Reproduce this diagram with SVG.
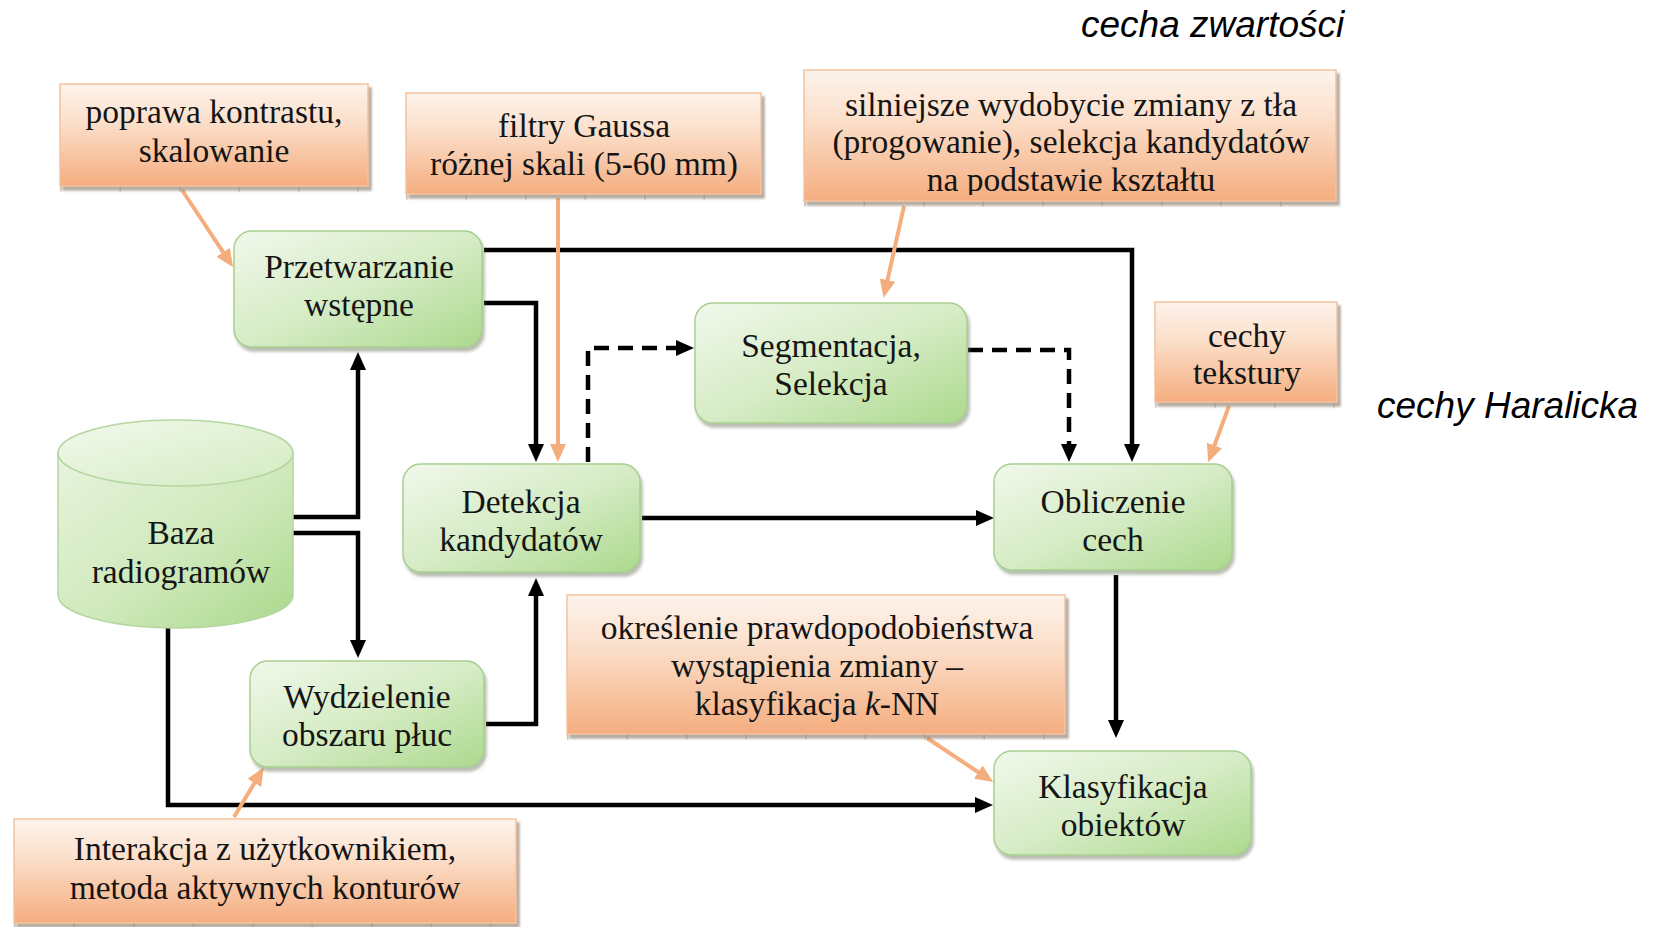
<svg xmlns="http://www.w3.org/2000/svg" width="1654" height="927" viewBox="0 0 1654 927">
  <defs>
    <linearGradient id="gOrange" x1="0" y1="0" x2="0" y2="1">
      <stop offset="0" stop-color="#fdf3ec"/>
      <stop offset="0.35" stop-color="#fbe1cd"/>
      <stop offset="1" stop-color="#f5ad7f"/>
    </linearGradient>
    <linearGradient id="gGreen" x1="0" y1="0" x2="1" y2="1">
      <stop offset="0" stop-color="#f1f8eb"/>
      <stop offset="0.5" stop-color="#d6ecc6"/>
      <stop offset="1" stop-color="#acd98d"/>
    </linearGradient>
    <linearGradient id="gCylBody" x1="0" y1="0" x2="1" y2="1">
      <stop offset="0" stop-color="#e8f4de"/>
      <stop offset="0.55" stop-color="#cfe9bb"/>
      <stop offset="1" stop-color="#aad88b"/>
    </linearGradient>
    <linearGradient id="gCylTop" x1="0" y1="0" x2="1" y2="1">
      <stop offset="0" stop-color="#f2f9ec"/>
      <stop offset="1" stop-color="#d3ebc1"/>
    </linearGradient>
    <filter id="shOrange" x="-5%" y="-10%" width="115%" height="130%">
      <feDropShadow dx="3" dy="4" stdDeviation="1.2" flood-color="#7a6656" flood-opacity="0.55"/>
    </filter>
    <filter id="shGreen" x="-5%" y="-10%" width="115%" height="130%">
      <feDropShadow dx="2" dy="4" stdDeviation="1.5" flood-color="#6f7d62" flood-opacity="0.5"/>
    </filter>
    <marker id="arrBlack" viewBox="0 0 18 16" refX="7" refY="8" markerWidth="18" markerHeight="16" markerUnits="userSpaceOnUse" orient="auto">
      <path d="M0,0 L18,8 L0,16 Z" fill="#000"/>
    </marker>
    <marker id="arrOrange" viewBox="0 0 18 16" refX="7" refY="8" markerWidth="18" markerHeight="16" markerUnits="userSpaceOnUse" orient="auto">
      <path d="M0,0 L18,8 L0,16 Z" fill="#f4ae7e"/>
    </marker>
    <clipPath id="clipShape">
      <rect x="804" y="70" width="532" height="125"/>
    </clipPath>
  </defs>
  <style>
    .note rect.box { fill: url(#gOrange); stroke: #f3c29f; stroke-width: 1.5; filter: url(#shOrange); }
    .step rect.box { fill: url(#gGreen); stroke: #a9cf90; stroke-width: 1.5; filter: url(#shGreen); }
    .ticks { stroke: #a89484; stroke-width: 5; stroke-dasharray: 1.5 58; fill: none; opacity: 0.6; }
    text { font-family: "Liberation Serif", "Times New Roman", serif; font-size: 33.5px; fill: #151515; text-anchor: middle; }
    text.side { font-family: "Liberation Sans", Arial, sans-serif; font-style: italic; font-size: 37px; fill: #000; text-anchor: start; }
    .flow { fill: none; stroke: #000; stroke-width: 4.5; marker-end: url(#arrBlack); }
    .flow.dashed { stroke-dasharray: 15 9; }
    .hint { fill: none; stroke: #f4ae7e; stroke-width: 4; marker-end: url(#arrOrange); }
  </style>

  <rect width="1654" height="927" fill="#fff"/>

  <!-- side labels -->
  <text class="side" x="1081" y="37">cecha zwartości</text>
  <text class="side" x="1377" y="418">cechy Haralicka</text>

  <!-- connectors -->
  <g id="connectors">
    <path class="flow" d="M484,250 H1132 V451"/>
    <path class="flow" d="M484,303 H536 V451"/>
    <path class="flow dashed" d="M588,462 V348 H683"/>
    <path class="flow dashed" d="M968,350 H1069 V451"/>
    <path class="flow" d="M642,518 H983"/>
    <path class="flow" d="M1116,575 V727"/>
    <path class="flow" d="M486,724 H536 V589"/>
    <path class="flow" d="M168,628 V805 H982"/>
    <path class="flow" d="M293,517 H358 V363"/>
    <path class="flow" d="M293,533 H358 V647"/>
    <path class="hint" d="M182,190 L227,258"/>
    <path class="hint" d="M558,198 V451"/>
    <path class="hint" d="M904,206 L886,287"/>
    <path class="hint" d="M1229,406 L1212,452"/>
    <path class="hint" d="M927,738 L984,776"/>
    <path class="hint" d="M234,817 L258,777"/>
  </g>

  <!-- annotation boxes -->
  <g id="note-kontrast" class="note">
    <rect class="box" x="60" y="84" width="308" height="102"/>
    <line class="ticks" x1="60" y1="189" x2="368" y2="189"/>
    <text x="214" y="123">poprawa kontrastu,</text>
    <text x="214" y="162">skalowanie</text>
  </g>
  <g id="note-gauss" class="note">
    <rect class="box" x="406" y="93" width="355" height="101"/>
    <line class="ticks" x1="406" y1="197" x2="761" y2="197"/>
    <text x="584" y="137">filtry Gaussa</text>
    <text x="584" y="175">różnej skali (5-60 mm)</text>
  </g>
  <g id="note-progowanie" class="note">
    <rect class="box" x="804" y="70" width="532" height="131"/>
    <line class="ticks" x1="804" y1="204" x2="1336" y2="204"/>
    <g clip-path="url(#clipShape)">
      <text x="1071" y="116">silniejsze wydobycie zmiany z tła</text>
      <text x="1071" y="153">(progowanie), selekcja kandydatów</text>
      <text x="1071" y="191">na podstawie kształtu</text>
    </g>
  </g>
  <g id="note-tekstura" class="note">
    <rect class="box" x="1155" y="302" width="182" height="100"/>
    <line class="ticks" x1="1155" y1="405" x2="1337" y2="405"/>
    <text x="1247" y="347">cechy</text>
    <text x="1247" y="384">tekstury</text>
  </g>
  <g id="note-knn" class="note">
    <rect class="box" x="567" y="595" width="498" height="139"/>
    <line class="ticks" x1="567" y1="737" x2="1065" y2="737"/>
    <text x="817" y="639">określenie prawdopodobieństwa</text>
    <text x="817" y="677">wystąpienia zmiany –</text>
    <text x="817" y="715">klasyfikacja <tspan font-style="italic">k</tspan>-NN</text>
  </g>
  <g id="note-kontury" class="note">
    <rect class="box" x="14" y="819" width="502" height="104"/>
    <line class="ticks" x1="14" y1="926" x2="516" y2="926"/>
    <text x="265" y="860">Interakcja z użytkownikiem,</text>
    <text x="265" y="899">metoda aktywnych konturów</text>
  </g>

  <!-- processing steps -->
  <g id="baza">
    <path d="M58,453 V595 A117.5,33 0 0 0 293,595 V453 Z" fill="url(#gCylBody)" stroke="#b5d6a0" stroke-width="1.5"/>
    <ellipse cx="175.5" cy="453" rx="117.5" ry="33" fill="url(#gCylTop)" stroke="#b5d6a0" stroke-width="1.5"/>
    <text x="181" y="544">Baza</text>
    <text x="181" y="583">radiogramów</text>
  </g>
  <g id="przetwarzanie" class="step">
    <rect class="box" x="234" y="231" width="248" height="116" rx="18"/>
    <text x="359" y="278">Przetwarzanie</text>
    <text x="359" y="316">wstępne</text>
  </g>
  <g id="segmentacja" class="step">
    <rect class="box" x="695" y="303" width="272" height="120" rx="18"/>
    <text x="831" y="357">Segmentacja,</text>
    <text x="831" y="395">Selekcja</text>
  </g>
  <g id="detekcja" class="step">
    <rect class="box" x="403" y="464" width="237" height="108" rx="18"/>
    <text x="521" y="513">Detekcja</text>
    <text x="521" y="551">kandydatów</text>
  </g>
  <g id="obliczenie" class="step">
    <rect class="box" x="994" y="464" width="238" height="106" rx="18"/>
    <text x="1113" y="513">Obliczenie</text>
    <text x="1113" y="551">cech</text>
  </g>
  <g id="wydzielenie" class="step">
    <rect class="box" x="250" y="661" width="234" height="106" rx="18"/>
    <text x="367" y="708">Wydzielenie</text>
    <text x="367" y="746">obszaru płuc</text>
  </g>
  <g id="klasyfikacja" class="step">
    <rect class="box" x="994" y="751" width="257" height="104" rx="18"/>
    <text x="1123" y="798">Klasyfikacja</text>
    <text x="1123" y="836">obiektów</text>
  </g>
</svg>
